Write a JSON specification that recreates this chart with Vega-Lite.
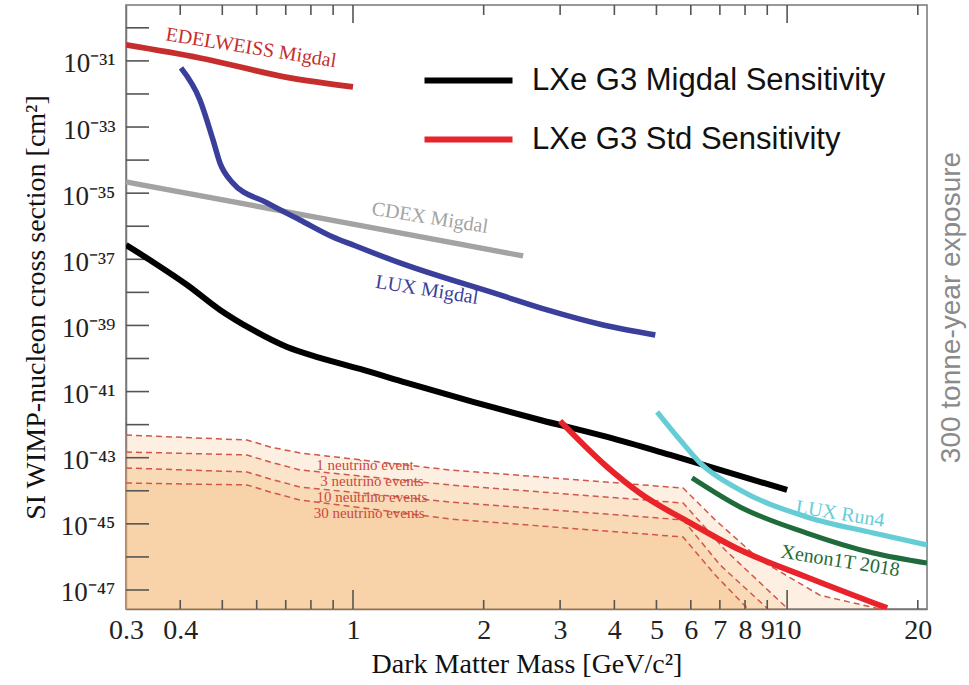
{
  "$schema": "https://vega.github.io/schema/vega-lite/v6.json",
  "width": 801,
  "height": 604,
  "autosize": {"type": "none"},
  "padding": {"left": 126, "top": 5, "right": 42, "bottom": 76},
  "background": "white",
  "config": {
    "view": {"stroke": "#777777", "strokeWidth": 1.5},
    "font": "Liberation Serif",
    "axis": {"labelFont": "Liberation Serif", "titleFont": "Liberation Serif", "grid": false, "zindex": 2}
  },
  "resolve": {"axis": {"x": "independent", "y": "independent"}},
  "datasets": {
    "curves": [
      {"series": "CDEX Migdal", "mass": 0.3, "sigma": 2.19e-35},
      {"series": "CDEX Migdal", "mass": 1.0, "sigma": 1.16e-36},
      {"series": "CDEX Migdal", "mass": 2.465, "sigma": 1.26e-37},
      {"series": "EDELWEISS Migdal", "mass": 0.3, "sigma": 3.05e-31},
      {"series": "EDELWEISS Migdal", "mass": 0.444, "sigma": 1.23e-31},
      {"series": "EDELWEISS Migdal", "mass": 0.716, "sigma": 3.06e-32},
      {"series": "EDELWEISS Migdal", "mass": 1.0, "sigma": 1.64e-32},
      {"series": "LUX Migdal", "mass": 0.4016, "sigma": 6.14e-32},
      {"series": "LUX Migdal", "mass": 0.444, "sigma": 6.6e-33},
      {"series": "LUX Migdal", "mass": 0.4759, "sigma": 4.07e-34},
      {"series": "LUX Migdal", "mass": 0.4938, "sigma": 8.2e-35},
      {"series": "LUX Migdal", "mass": 0.526, "sigma": 2.19e-35},
      {"series": "LUX Migdal", "mass": 0.634, "sigma": 5.07e-36},
      {"series": "LUX Migdal", "mass": 0.755, "sigma": 1.55e-36},
      {"series": "LUX Migdal", "mass": 0.899, "sigma": 4.74e-37},
      {"series": "LUX Migdal", "mass": 1.0, "sigma": 2.72e-37},
      {"series": "LUX Migdal", "mass": 1.283, "sigma": 7.76e-38},
      {"series": "LUX Migdal", "mass": 2.18, "sigma": 8.36e-39},
      {"series": "LUX Migdal", "mass": 2.8, "sigma": 2.94e-39},
      {"series": "LUX Migdal", "mass": 3.77, "sigma": 1.03e-39},
      {"series": "LUX Migdal", "mass": 4.97, "sigma": 5.15e-40},
      {"series": "LXe G3 Migdal Sensitivity", "mass": 0.3, "sigma": 2.72e-37},
      {"series": "LXe G3 Migdal Sensitivity", "mass": 0.346, "sigma": 8.3e-38},
      {"series": "LXe G3 Migdal Sensitivity", "mass": 0.415, "sigma": 1.67e-38},
      {"series": "LXe G3 Migdal Sensitivity", "mass": 0.494, "sigma": 2.94e-39},
      {"series": "LXe G3 Migdal Sensitivity", "mass": 0.588, "sigma": 7.3e-40},
      {"series": "LXe G3 Migdal Sensitivity", "mass": 0.705, "sigma": 2.23e-40},
      {"series": "LXe G3 Migdal Sensitivity", "mass": 0.839, "sigma": 1.05e-40},
      {"series": "LXe G3 Migdal Sensitivity", "mass": 1.038, "sigma": 4.83e-41},
      {"series": "LXe G3 Migdal Sensitivity", "mass": 1.331, "sigma": 1.82e-41},
      {"series": "LXe G3 Migdal Sensitivity", "mass": 1.89, "sigma": 4.85e-42},
      {"series": "LXe G3 Migdal Sensitivity", "mass": 2.7, "sigma": 1.38e-42},
      {"series": "LXe G3 Migdal Sensitivity", "mass": 3.85, "sigma": 4.24e-43},
      {"series": "LXe G3 Migdal Sensitivity", "mass": 5.38, "sigma": 1.21e-43},
      {"series": "LXe G3 Migdal Sensitivity", "mass": 10.0, "sigma": 1.06e-44},
      {"series": "LUX Run4", "mass": 5.02, "sigma": 2.42e-42},
      {"series": "LUX Run4", "mass": 5.67, "sigma": 3.44e-43},
      {"series": "LUX Run4", "mass": 6.31, "sigma": 6.9e-44},
      {"series": "LUX Run4", "mass": 7.79, "sigma": 1.06e-44},
      {"series": "LUX Run4", "mass": 11.1, "sigma": 1.62e-45},
      {"series": "LUX Run4", "mass": 15.8, "sigma": 5.28e-46},
      {"series": "LUX Run4", "mass": 21.0, "sigma": 2.29e-46},
      {"series": "Xenon1T 2018", "mass": 6.04, "sigma": 2.44e-44},
      {"series": "Xenon1T 2018", "mass": 7.79, "sigma": 3.23e-45},
      {"series": "Xenon1T 2018", "mass": 11.1, "sigma": 5.28e-46},
      {"series": "Xenon1T 2018", "mass": 15.8, "sigma": 1.31e-46},
      {"series": "Xenon1T 2018", "mass": 21.0, "sigma": 6.5e-47},
      {"series": "LXe G3 Std Sensitivity", "mass": 3.0, "sigma": 1.29e-42},
      {"series": "LXe G3 Std Sensitivity", "mass": 3.85, "sigma": 5.25e-44},
      {"series": "LXe G3 Std Sensitivity", "mass": 4.58, "sigma": 8.5e-45},
      {"series": "LXe G3 Std Sensitivity", "mass": 5.98, "sigma": 1.07e-45},
      {"series": "LXe G3 Std Sensitivity", "mass": 7.79, "sigma": 1.62e-46},
      {"series": "LXe G3 Std Sensitivity", "mass": 11.1, "sigma": 2.45e-47},
      {"series": "LXe G3 Std Sensitivity", "mass": 17.0, "sigma": 2.84e-48}
    ],
    "floor": [
      {"series": "1 event", "mass": 0.3, "sigma": 4.86e-43},
      {"series": "1 event", "mass": 0.57, "sigma": 3.43e-43},
      {"series": "1 event", "mass": 0.644, "sigma": 2.11e-43},
      {"series": "1 event", "mass": 0.755, "sigma": 1.39e-43},
      {"series": "1 event", "mass": 1.673, "sigma": 4.26e-44},
      {"series": "1 event", "mass": 5.76, "sigma": 1.21e-44},
      {"series": "1 event", "mass": 6.83, "sigma": 1.31e-45},
      {"series": "1 event", "mass": 8.67, "sigma": 8.05e-47},
      {"series": "1 event", "mass": 11.91, "sigma": 6.9e-48},
      {"series": "1 event", "mass": 16.38, "sigma": 2.65e-48},
      {"series": "3 events", "mass": 0.3, "sigma": 1.49e-43},
      {"series": "3 events", "mass": 0.57, "sigma": 1.21e-43},
      {"series": "3 events", "mass": 0.644, "sigma": 7.4e-44},
      {"series": "3 events", "mass": 0.755, "sigma": 4.26e-44},
      {"series": "3 events", "mass": 1.673, "sigma": 1.5e-44},
      {"series": "3 events", "mass": 5.76, "sigma": 4.27e-45},
      {"series": "3 events", "mass": 7.2, "sigma": 1.62e-46},
      {"series": "3 events", "mass": 10.05, "sigma": 2.65e-48},
      {"series": "10 events", "mass": 0.3, "sigma": 4.89e-44},
      {"series": "10 events", "mass": 0.57, "sigma": 3.7e-44},
      {"series": "10 events", "mass": 0.644, "sigma": 2.27e-44},
      {"series": "10 events", "mass": 0.755, "sigma": 1.3e-44},
      {"series": "10 events", "mass": 1.673, "sigma": 4.58e-45},
      {"series": "10 events", "mass": 5.76, "sigma": 1.31e-45},
      {"series": "10 events", "mass": 7.01, "sigma": 5.69e-47},
      {"series": "10 events", "mass": 9.04, "sigma": 2.65e-48},
      {"series": "30 events", "mass": 0.3, "sigma": 1.72e-44},
      {"series": "30 events", "mass": 0.57, "sigma": 1.5e-44},
      {"series": "30 events", "mass": 0.644, "sigma": 9.2e-45},
      {"series": "30 events", "mass": 0.755, "sigma": 5.26e-45},
      {"series": "30 events", "mass": 1.673, "sigma": 1.4e-45},
      {"series": "30 events", "mass": 5.76, "sigma": 4.0e-46},
      {"series": "30 events", "mass": 6.83, "sigma": 2.83e-47},
      {"series": "30 events", "mass": 8.13, "sigma": 2.65e-48}
    ],
    "labels": [
      {"label": "EDELWEISS Migdal", "series": "EDELWEISS Migdal", "mass": 0.582, "sigma": 2.47e-31},
      {"label": "CDEX Migdal", "series": "CDEX Migdal", "mass": 1.504, "sigma": 1.78e-36},
      {"label": "LUX Migdal", "series": "LUX Migdal", "mass": 1.48, "sigma": 1.18e-38},
      {"label": "LUX Run4", "series": "LUX Run4", "mass": 13.25, "sigma": 1.99e-45},
      {"label": "Xenon1T 2018", "series": "Xenon1T 2018", "mass": 13.25, "sigma": 7.5e-47}
    ],
    "nulabels": [
      {"label": "1 neutrino event", "mass": 1.066, "sigma": 6.03e-44},
      {"label": "3 neutrino events", "mass": 1.106, "sigma": 1.98e-44},
      {"label": "10 neutrino events", "mass": 1.106, "sigma": 6.49e-45},
      {"label": "30 neutrino events", "mass": 1.089, "sigma": 2.13e-45}
    ],
    "xticks": [
      {"v": 0.4, "kind": "minor"}, {"v": 0.5, "kind": "minor"}, {"v": 0.6, "kind": "minor"}, {"v": 0.7, "kind": "minor"},
      {"v": 0.8, "kind": "minor"}, {"v": 0.9, "kind": "minor"}, {"v": 1, "kind": "major"}, {"v": 2, "kind": "minor"},
      {"v": 3, "kind": "minor"}, {"v": 4, "kind": "minor"}, {"v": 5, "kind": "minor"}, {"v": 6, "kind": "minor"},
      {"v": 7, "kind": "minor"}, {"v": 8, "kind": "minor"}, {"v": 9, "kind": "minor"}, {"v": 10, "kind": "major"},
      {"v": 20, "kind": "minor"}
    ],
    "yticks": [
      {"v": 1e-30}, {"v": 1e-31}, {"v": 1e-32}, {"v": 1e-33}, {"v": 1e-34}, {"v": 1e-35}, {"v": 1e-36}, {"v": 1e-37}, {"v": 1e-38},
      {"v": 1e-39}, {"v": 1e-40}, {"v": 1e-41}, {"v": 1e-42}, {"v": 1e-43}, {"v": 1e-44}, {"v": 1e-45}, {"v": 1e-46}, {"v": 1e-47}
    ]
  },
  "layer": [
    {
      "data": {"name": "floor"},
      "mark": {"type": "area", "fill": "#f6b46f", "fillOpacity": 0.2, "clip": true},
      "encoding": {
        "x": {"field": "mass", "type": "quantitative", "scale": {"type": "log", "domain": [0.3, 21.0], "nice": false}, "axis": null},
        "y": {"field": "sigma", "type": "quantitative", "stack": null, "scale": {"type": "log", "domain": [2.66e-48, 4.9e-30], "nice": false}, "axis": null},
        "y2": {"datum": 2e-48},
        "detail": {"field": "series"}
      }
    },
    {
      "data": {"name": "floor"},
      "mark": {"type": "line", "stroke": "#d0574a", "strokeWidth": 1.5, "strokeDash": [6, 4], "clip": true},
      "encoding": {
        "x": {"field": "mass", "type": "quantitative", "scale": {"type": "log", "domain": [0.3, 21.0], "nice": false}, "axis": null},
        "y": {"field": "sigma", "type": "quantitative", "scale": {"type": "log", "domain": [2.66e-48, 4.9e-30], "nice": false}, "axis": null},
        "detail": {"field": "series"}
      }
    },
    {
      "data": {"name": "yticks"},
      "mark": {"type": "tick", "orient": "horizontal", "size": 23, "thickness": 1.6, "color": "#555555", "opacity": 1},
      "encoding": {
        "y": {"field": "v", "type": "quantitative", "scale": {"type": "log", "domain": [2.66e-48, 4.9e-30], "nice": false}, "axis": null},
        "x": {"datum": 0.3189, "type": "quantitative", "scale": {"type": "log", "domain": [0.3, 21.0], "nice": false}, "axis": null}
      }
    },
    {
      "data": {"name": "xticks"},
      "transform": [{"filter": "datum.kind == 'minor'"}],
      "mark": {"type": "tick", "orient": "vertical", "size": 9, "thickness": 1.6, "color": "#555555", "opacity": 1},
      "encoding": {
        "x": {"field": "v", "type": "quantitative", "scale": {"type": "log", "domain": [0.3, 21.0], "nice": false}, "axis": null},
        "y": {"datum": 3.64e-48, "type": "quantitative", "scale": {"type": "log", "domain": [2.66e-48, 4.9e-30], "nice": false}, "axis": null}
      }
    },
    {
      "data": {"name": "xticks"},
      "transform": [{"filter": "datum.kind == 'major'"}],
      "mark": {"type": "tick", "orient": "vertical", "size": 19, "thickness": 1.6, "color": "#555555", "opacity": 1},
      "encoding": {
        "x": {"field": "v", "type": "quantitative", "scale": {"type": "log", "domain": [0.3, 21.0], "nice": false}, "axis": null},
        "y": {"datum": 5.16e-48, "type": "quantitative", "scale": {"type": "log", "domain": [2.66e-48, 4.9e-30], "nice": false}, "axis": null}
      }
    },
    {
      "data": {"name": "xticks"},
      "transform": [{"filter": "datum.kind == 'minor'"}],
      "mark": {"type": "tick", "orient": "vertical", "size": 10, "thickness": 1.6, "color": "#555555", "opacity": 1},
      "encoding": {
        "x": {"field": "v", "type": "quantitative", "scale": {"type": "log", "domain": [0.3, 21.0], "nice": false}, "axis": null},
        "y": {"datum": 3.46e-30, "type": "quantitative", "scale": {"type": "log", "domain": [2.66e-48, 4.9e-30], "nice": false}, "axis": null}
      }
    },
    {
      "data": {"name": "xticks"},
      "transform": [{"filter": "datum.kind == 'major'"}],
      "mark": {"type": "tick", "orient": "vertical", "size": 18, "thickness": 1.6, "color": "#555555", "opacity": 1},
      "encoding": {
        "x": {"field": "v", "type": "quantitative", "scale": {"type": "log", "domain": [0.3, 21.0], "nice": false}, "axis": null},
        "y": {"datum": 2.62e-30, "type": "quantitative", "scale": {"type": "log", "domain": [2.66e-48, 4.9e-30], "nice": false}, "axis": null}
      }
    },
    {
      "data": {"name": "curves"},
      "mark": {"type": "line", "clip": true, "interpolate": "monotone"},
      "encoding": {
        "x": {
          "field": "mass", "type": "quantitative",
          "scale": {"type": "log", "domain": [0.3, 21.0], "nice": false},
          "axis": {
            "orient": "bottom",
            "values": [0.3, 0.4, 1, 2, 3, 4, 5, 6, 7, 8, 9, 10, 20],
            "format": "~g",
            "labelOverlap": false,
            "labelFlush": false,
            "labelFontSize": 28,
            "labelColor": "#222222",
            "labelPadding": 7,
            "ticks": false,
            "tickSize": 0,
            "domainColor": "#777777",
            "domainWidth": 1.5,
            "title": "Dark Matter Mass [GeV/c²]",
            "titleFontSize": 28,
            "titleFontWeight": "normal",
            "titleColor": "#111111",
            "titlePadding": 6
          }
        },
        "y": {
          "field": "sigma", "type": "quantitative",
          "scale": {"type": "log", "domain": [2.66e-48, 4.9e-30], "nice": false},
          "axis": {
            "orient": "left",
            "values": [1e-31, 1e-33, 1e-35, 1e-37, 1e-39, 1e-41, 1e-43, 1e-45, 1e-47],
            "labelExpr": "round(log(datum.value)/LN10) == -31 ? '10⁻³¹' : round(log(datum.value)/LN10) == -33 ? '10⁻³³' : round(log(datum.value)/LN10) == -35 ? '10⁻³⁵' : round(log(datum.value)/LN10) == -37 ? '10⁻³⁷' : round(log(datum.value)/LN10) == -39 ? '10⁻³⁹' : round(log(datum.value)/LN10) == -41 ? '10⁻⁴¹' : round(log(datum.value)/LN10) == -43 ? '10⁻⁴³' : round(log(datum.value)/LN10) == -45 ? '10⁻⁴⁵' : round(log(datum.value)/LN10) == -47 ? '10⁻⁴⁷' : ''",
            "labelOverlap": false,
            "labelFlush": false,
            "labelFontSize": 27,
            "labelColor": "#222222",
            "labelPadding": 11,
            "labelOffset": 3,
            "ticks": false,
            "tickSize": 0,
            "domainColor": "#777777",
            "domainWidth": 1.5,
            "title": "SI WIMP-nucleon cross section [cm²]",
            "titleFontSize": 28,
            "titleFontWeight": "normal",
            "titleColor": "#111111",
            "titlePadding": 10
          }
        },
        "color": {
          "field": "series", "type": "nominal",
          "scale": {
            "domain": ["LXe G3 Migdal Sensitivity", "LXe G3 Std Sensitivity", "EDELWEISS Migdal", "LUX Migdal", "CDEX Migdal", "LUX Run4", "Xenon1T 2018"],
            "range": ["#000000", "#e8232a", "#c62d2d", "#3b3f9c", "#a3a3a3", "#66cdd6", "#1f6b3b"]
          },
          "legend": {
            "values": ["LXe G3 Migdal Sensitivity", "LXe G3 Std Sensitivity"],
            "orient": "none",
            "legendX": 327,
            "legendY": 60,
            "title": null,
            "padding": 0,
            "symbolType": "M-4,0H4",
            "symbolSize": 484,
            "symbolStrokeWidth": 5,
            "labelFont": "Liberation Sans",
            "labelFontSize": 31,
            "labelColor": "#111111",
            "labelOffset": 48,
            "labelLimit": 600,
            "rowPadding": 27
          }
        },
        "strokeWidth": {
          "field": "series", "type": "nominal",
          "scale": {
            "domain": ["LXe G3 Migdal Sensitivity", "LXe G3 Std Sensitivity", "EDELWEISS Migdal", "LUX Migdal", "CDEX Migdal", "LUX Run4", "Xenon1T 2018"],
            "range": [6, 5, 3.5, 3, 3.5, 3.5, 3.5]
          },
          "legend": null
        }
      }
    },
    {
      "data": {"name": "labels"},
      "mark": {"type": "text", "font": "Liberation Serif", "fontSize": 20, "align": "center", "baseline": "middle"},
      "encoding": {
        "x": {"field": "mass", "type": "quantitative", "scale": {"type": "log", "domain": [0.3, 21.0], "nice": false}, "axis": null},
        "y": {
          "field": "sigma", "type": "quantitative",
          "scale": {"type": "log", "domain": [2.66e-48, 4.9e-30], "nice": false},
          "axis": {
            "orient": "right",
            "labels": false,
            "ticks": false,
            "domain": false,
            "title": "300 tonne-year exposure",
            "titleFont": "Liberation Sans",
            "titleFontSize": 28,
            "titleFontWeight": "normal",
            "titleColor": "#8a8a8a",
            "titleAngle": 270,
            "titlePadding": 38
          }
        },
        "text": {"field": "label"},
        "color": {"field": "series", "type": "nominal", "legend": null},
        "angle": {
          "field": "label", "type": "nominal",
          "scale": {"domain": ["EDELWEISS Migdal", "CDEX Migdal", "LUX Migdal", "LUX Run4", "Xenon1T 2018"], "range": [9, 9, 14, 12, 12]},
          "legend": null
        }
      }
    },
    {
      "data": {"name": "nulabels"},
      "mark": {"type": "text", "font": "Liberation Serif", "fontSize": 15, "align": "center", "baseline": "middle", "color": "#c9483f"},
      "encoding": {
        "x": {"field": "mass", "type": "quantitative", "scale": {"type": "log", "domain": [0.3, 21.0], "nice": false}, "axis": null},
        "y": {"field": "sigma", "type": "quantitative", "scale": {"type": "log", "domain": [2.66e-48, 4.9e-30], "nice": false}, "axis": null},
        "text": {"field": "label"},
        "angle": {"datum": 4}
      }
    }
  ]
}
